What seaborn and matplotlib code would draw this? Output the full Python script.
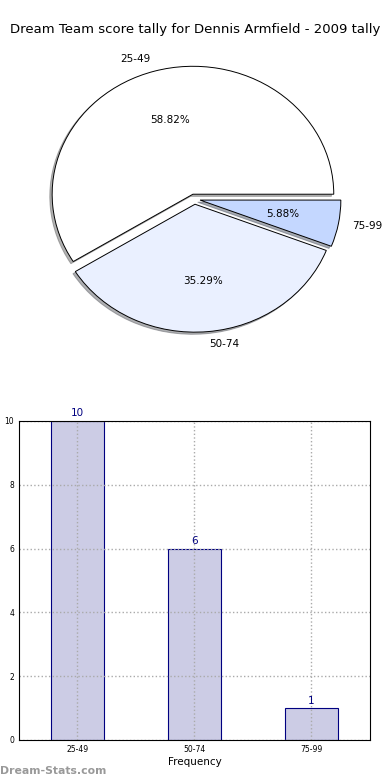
import matplotlib
matplotlib.use("Agg")
import matplotlib.pyplot as plt
import seaborn as sns

intervals = ["25-49", "50-74", "75-99"]
tally = [10, 6, 1]
pie_colors = ["#FFFFFF", "#EAF0FF", "#C4D7FF"]
explode = [0.04, 0.04, 0.04]

sns.set_style("white")
plt.rcParams['font.family'] = ['DejaVu Sans']
plt.rcParams['text.color'] = 'black'
plt.rcParams['axes.labelcolor'] = 'black'
plt.rcParams['xtick.color'] = 'black'
plt.rcParams['ytick.color'] = 'black'

fig = plt.figure(figsize=(3.9, 7.8), dpi=100)

# Pie chart
ax1 = fig.add_axes([0.0474, 0.5397, 0.9026, 0.410])
ax1.pie(tally, labels=intervals, colors=pie_colors, explode=explode,
        autopct='%1.2f%%', pctdistance=0.6, labeldistance=1.1,
        shadow={'ox': -0.012, 'oy': -0.012, 'shade': 0.6},
        startangle=0, counterclock=True,
        wedgeprops={'edgecolor': 'black', 'linewidth': 0.7},
        textprops={'fontsize': 7.5})
ax1.set_aspect('auto')
ax1.set_xlim(-1.25, 1.25)
ax1.set_ylim(-1.25, 1.25)
fig.text(0.5, 0.962, "Dream Team score tally for Dennis Armfield - 2009 tally",
         ha='center', va='center', fontsize=9.5)

# Bar chart
ax2 = fig.add_axes([0.0487, 0.0513, 0.9, 0.409])
sns.barplot(x=intervals, y=tally, ax=ax2, color="#CCCCE5", saturation=1,
            width=0.45, edgecolor="navy", linewidth=0.8, zorder=1)
for i, v in enumerate(tally):
    ax2.text(i, v + 0.08, str(v), ha='center', va='bottom', color='navy', fontsize=7.5)
ax2.set_xlim(-0.5, 2.5)
ax2.set_ylim(0, 10)
ax2.set_yticks([0, 2, 4, 6, 8, 10])
ax2.grid(True, linestyle=':', color='#aaaaaa', linewidth=1.0, zorder=3)
ax2.set_axisbelow(False)
for s in ax2.spines.values():
    s.set_color('black')
    s.set_linewidth(0.8)
    s.set_zorder(4)
ax2.tick_params(labelsize=5.5, length=2, direction='in')
ax2.set_xlabel("Frequency", fontsize=7.5, labelpad=2)
ax2.set_ylabel("Score Interval Tally", fontsize=7.5, labelpad=6)

fig.text(0.0, 0.012, "Dream-Stats.com", color='#999999', fontsize=7.8,
         fontweight='bold', ha='left', va='center')

fig.savefig("out.png", dpi=100)
